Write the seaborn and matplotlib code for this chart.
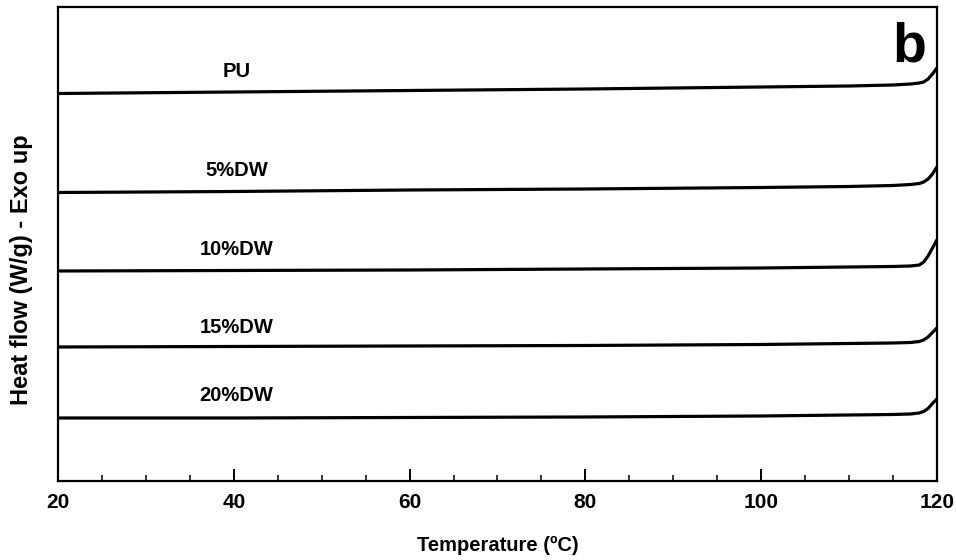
import matplotlib
matplotlib.use("Agg")
import matplotlib.pyplot as plt
from matplotlib.ticker import MultipleLocator, NullLocator
import numpy as np
import pandas as pd
import seaborn as sns

# DSC heating traces (heat flow, stacked, arbitrary units)
temperature = [20, 40, 60, 80, 100, 110, 115, 117, 118, 118.5, 119, 119.5, 120]
samples = ["PU", "5%DW", "10%DW", "15%DW", "20%DW"]
hf_pu = [387.5, 389, 390.5, 392, 394, 395, 396, 397, 398, 399, 402, 407, 413]
hf_5 = [288.5, 289.5, 291, 292, 293.5, 294.5, 295.5, 296.5, 297.5, 299, 302, 307, 314]
hf_10 = [210, 210.5, 211, 212, 213, 214, 214.5, 215, 216, 219, 225, 233, 241]
hf_15 = [134, 134.5, 135, 135.5, 136.5, 137.5, 138, 138.5, 139.5, 141, 144, 148.5, 153]
hf_20 = [63, 63, 63.5, 64, 65, 66, 66.5, 67, 68, 69.5, 72.5, 77.5, 82]
label_y = [409, 310, 231, 153, 85]
label_x = 40.3
xticks = [20, 40, 60, 80, 100, 120]

series = [hf_pu, hf_5, hf_10, hf_15, hf_20]
df = pd.concat(
    [pd.DataFrame({"T": temperature, "hf": vals, "sample": name})
     for name, vals in zip(samples, series)],
    ignore_index=True,
)

sns.set_style("ticks")
plt.rcParams["font.family"] = ["Liberation Sans", "DejaVu Sans"]
plt.rcParams["font.weight"] = "bold"
plt.rcParams["text.color"] = "black"
plt.rcParams["axes.labelcolor"] = "black"
plt.rcParams["xtick.color"] = "black"
plt.rcParams["ytick.color"] = "black"

fig = plt.figure(figsize=(9.56, 5.6), dpi=100)
ax = fig.add_axes([0.0607, 0.1411, 0.9193, 0.8464])

sns.lineplot(data=df, x="T", y="hf", hue="sample", palette=["black"] * 5,
             estimator=None, sort=False, legend=False, linewidth=2.3, ax=ax)

for name, y in zip(samples, label_y):
    ax.text(label_x, y, name, ha="center", va="center", fontsize=14.5,
            fontweight="bold", color="black")

ax.text(116.9, 433, "b", ha="center", va="center", fontsize=40,
        fontweight="bold", color="black")

ax.set_xlim(20, 120)
ax.set_ylim(0, 474)
ax.set_xticks(xticks)
ax.set_xticklabels([str(t) for t in xticks], fontsize=15, fontweight="bold")
ax.xaxis.set_minor_locator(MultipleLocator(5))
ax.yaxis.set_major_locator(NullLocator())
ax.tick_params(axis="x", which="major", direction="in", length=9, width=1.4,
               pad=9, top=False, colors="black")
ax.tick_params(axis="x", which="minor", direction="in", length=4.5, width=1.1,
               top=False, colors="black")

ax.set_xlabel("Temperature (ºC)", fontsize=14.5, fontweight="bold", labelpad=17,
              color="black")
ax.set_ylabel("Heat flow (W/g) - Exo up", fontsize=17, fontweight="bold",
              color="black")
ax.yaxis.set_label_coords(-0.028, 0.445)

for side in ["left", "right", "top", "bottom"]:
    ax.spines[side].set_visible(True)
    ax.spines[side].set_linewidth(1.6)
    ax.spines[side].set_color("black")

fig.savefig("out.png", dpi=100)
